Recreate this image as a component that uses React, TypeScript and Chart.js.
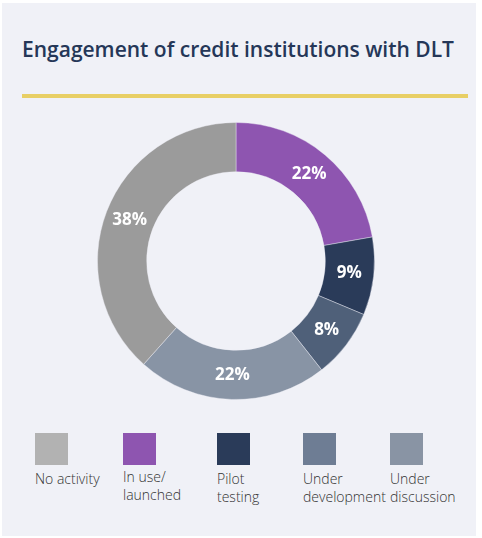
import React, { useEffect, useRef } from "react";
import { Chart, registerables } from "chart.js";

Chart.register(...registerables);

const categories = ["In use/launched", "Pilot testing", "Under development", "Under discussion", "No activity"];
const values = [22, 9, 8, 22, 38];
const sliceColors = ["#8e55b0", "#2a3b59", "#4f6079", "#8894a5", "#9b9b9b"];

const legendLabels = ["No activity", "In use/\nlaunched", "Pilot\ntesting", "Under\ndevelopment", "Under\ndiscussion"];
const legendColors = ["#b2b2b2", "#8e55b0", "#2a3b59", "#6e7d94", "#8994a4"];
const legendLeft = [35, 123, 217, 303, 390];

const title = "Engagement of credit institutions with DLT";

const labelPlugin = {
  id: "sliceLabels",
  afterDatasetsDraw(chart: any) {
    const ctx = chart.ctx;
    const meta = chart.getDatasetMeta(0);
    ctx.save();
    ctx.fillStyle = "#ffffff";
    ctx.font = "700 17px 'Open Sans'";
    ctx.textAlign = "center";
    ctx.textBaseline = "middle";
    meta.data.forEach((arc: any, i: number) => {
      const p = arc.tooltipPosition();
      ctx.fillText(values[i] + "%", p.x, p.y);
    });
    ctx.restore();
  },
};

export default function App() {
  const ref = useRef<HTMLCanvasElement | null>(null);
  useEffect(() => {
    document.body.style.margin = "0";
    const chart = new Chart(ref.current!, {
      type: "doughnut",
      data: {
        labels: categories,
        datasets: [
          {
            data: values,
            backgroundColor: sliceColors,
            borderColor: "rgba(240,241,247,0.4)",
            borderWidth: 1,
          },
        ],
      },
      options: {
        animation: false,
        responsive: true,
        maintainAspectRatio: false,
        cutout: "64.5%",
        layout: { padding: 0 },
        plugins: { legend: { display: false }, tooltip: { enabled: false } },
      },
      plugins: [labelPlugin],
    });
    return () => chart.destroy();
  }, []);

  return (
    <div style={{ position: "fixed", left: 0, top: 0, width: 482, height: 538, background: "#ffffff", fontFamily: "'Open Sans', sans-serif" }}>
      <div style={{ position: "absolute", left: 2, top: 3, width: 474, height: 533, background: "#f0f1f7" }} />
      <div style={{ position: "absolute", left: 22, top: 34, fontSize: 21, fontWeight: 600, color: "#253758", whiteSpace: "nowrap", lineHeight: "30px" }}>
        {title}
      </div>
      <div style={{ position: "absolute", left: 22, top: 94, width: 446, height: 4, background: "#e8cf65" }} />
      <div style={{ position: "absolute", left: 97, top: 122, width: 278, height: 278 }}>
        <canvas ref={ref} />
      </div>
      {legendLabels.map((lab, i) => (
        <div key={i} style={{ position: "absolute", left: legendLeft[i], top: 433 }}>
          <div style={{ width: 33, height: 32, background: legendColors[i] }} />
          <div style={{ marginTop: i === 1 ? 3 : 5, fontSize: 14, fontWeight: 300, color: "#333", lineHeight: "18px", whiteSpace: "pre" }}>
            {lab}
          </div>
        </div>
      ))}
    </div>
  );
}
